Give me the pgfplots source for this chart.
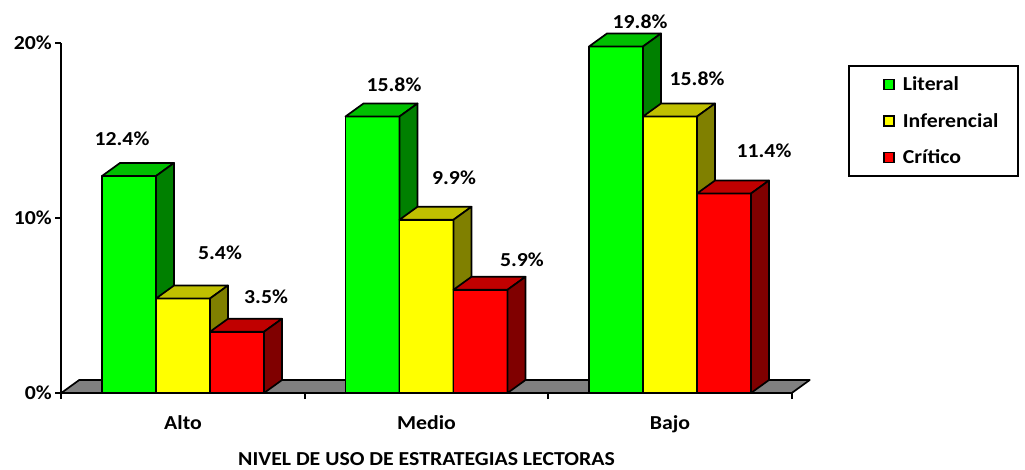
\documentclass[border=0pt]{standalone}
\usepackage{pgfplots}
\pgfplotsset{compat=1.18}
\usepackage{fontspec}
\setmainfont{Carlito}[FakeStretch=1.1]
\definecolor{LitF}{RGB}{0,255,0}
\definecolor{LitT}{RGB}{0,192,0}
\definecolor{LitS}{RGB}{0,128,0}
\definecolor{InfF}{RGB}{255,255,0}
\definecolor{InfT}{RGB}{192,192,0}
\definecolor{InfS}{RGB}{128,128,0}
\definecolor{CriF}{RGB}{255,0,0}
\definecolor{CriT}{RGB}{192,0,0}
\definecolor{CriS}{RGB}{128,0,0}
\definecolor{Floor}{RGB}{128,128,128}
\newcommand{\lbl}{\fontsize{19.8}{23}\selectfont\bfseries}
\pgfplotsset{sqlegend/.style={legend image code/.code={\path (0pt,0pt); \draw[##1] (15pt,-5pt) rectangle (25pt,5pt);}}}
% #1 left x of front face, #2 value, #3 front, #4 top, #5 side colour
\newcommand{\drawbar}[5]{%
  \pgfmathsetmacro\xa{#1}%
  \pgfmathsetmacro\xb{#1+0.2218}%
  \pgfmathsetmacro\xc{#1+0.2218+0.0739}%
  \pgfmathsetmacro\xd{#1+0.0739}%
  \pgfmathsetmacro\yt{#2+0.743}%
  \edef\tmp{%
    \noexpand\addplot[forget plot, fill=#3, draw=black, line width=1.7pt, line join=round] coordinates {(\xa,0) (\xb,0) (\xb,#2) (\xa,#2)} -- cycle;
    \noexpand\addplot[forget plot, fill=#4, draw=black, line width=1.7pt, line join=round] coordinates {(\xa,#2) (\xb,#2) (\xc,\yt) (\xd,\yt)} -- cycle;
    \noexpand\addplot[forget plot, fill=#5, draw=black, line width=1.7pt, line join=round] coordinates {(\xb,0) (\xc,0.743) (\xc,\yt) (\xb,#2)} -- cycle;
  }\tmp
}
\begin{document}
\begin{tikzpicture}
\useasboundingbox (0pt,0pt) rectangle (1025pt,469pt);
\begin{axis}[
  at={(61.25pt,76pt)}, anchor=south west,
  scale only axis, width=730.5pt, height=350pt,
  xmin=-0.5, xmax=2.5, ymin=0, ymax=20,
  clip=false, axis on top,
  axis x line=bottom, axis y line=left,
  axis line style={-, line width=1.7pt},
  tick align=outside, major tick length=6pt,
  tick style={line width=1.7pt, black},
  /pgf/number format/assume math mode=true,
  ytick={0,10,20},
  yticklabel={\pgfmathprintnumber{\tick}\%},
  xtick={-0.5,0.5,1.5,2.5}, xticklabels={,,,},
  extra x ticks={0,1,2},
  extra x tick labels={Alto,Medio,Bajo},
  extra x tick style={major tick length=0pt, tick label style={yshift=-19pt}},
  ticklabel style={font=\lbl},
  xlabel={NIVEL DE USO DE ESTRATEGIAS LECTORAS},
  xlabel style={font=\lbl, inner sep=0pt, at={(axis description cs:0.5,0)}, anchor=center, yshift=-66pt},
  legend style={at={(1.077,0.937)}, anchor=north west, draw=black, line width=1.6pt,
    font=\lbl, inner xsep=19.5pt, inner ysep=11pt, row sep=21pt,
    nodes={inner sep=0pt}, column sep=8pt},
  legend cell align=left,
]
% floor
\addplot[forget plot, fill=Floor, draw=black, line width=1.7pt, line join=round]
  coordinates {(-0.5,0) (2.5,0) (2.5739,0.743) (-0.4261,0.743)} -- cycle;
% Alto
\drawbar{-0.3327}{12.4}{LitF}{LitT}{LitS}
\drawbar{-0.1109}{5.4}{InfF}{InfT}{InfS}
\drawbar{0.1109}{3.5}{CriF}{CriT}{CriS}
% Medio
\drawbar{0.6673}{15.8}{LitF}{LitT}{LitS}
\drawbar{0.8891}{9.9}{InfF}{InfT}{InfS}
\drawbar{1.1109}{5.9}{CriF}{CriT}{CriS}
% Bajo
\drawbar{1.6673}{19.8}{LitF}{LitT}{LitS}
\drawbar{1.8891}{15.8}{InfF}{InfT}{InfS}
\drawbar{2.1109}{11.4}{CriF}{CriT}{CriS}
% value labels
\node[font=\lbl] at (axis cs:-0.2505,14.51) {12.4\%};
\node[font=\lbl] at (axis cs:0.152,8.0) {5.4\%};
\node[font=\lbl] at (axis cs:0.341,5.49) {3.5\%};
\node[font=\lbl] at (axis cs:0.8665,17.6) {15.8\%};
\node[font=\lbl] at (axis cs:1.113,12.29) {9.9\%};
\node[font=\lbl] at (axis cs:1.392,7.6) {5.9\%};
\node[font=\lbl] at (axis cs:1.877,21.2) {19.8\%};
\node[font=\lbl] at (axis cs:2.111,17.94) {15.8\%};
\node[font=\lbl] at (axis cs:2.386,13.83) {11.4\%};
% legend
\addlegendimage{sqlegend, fill=LitF, draw=black, line width=1.6pt}
\addlegendentry{Literal}
\addlegendimage{sqlegend, fill=InfF, draw=black, line width=1.6pt}
\addlegendentry{Inferencial}
\addlegendimage{sqlegend, fill=CriF, draw=black, line width=1.6pt}
\addlegendentry{Crítico}
\end{axis}
\end{tikzpicture}
\end{document}
